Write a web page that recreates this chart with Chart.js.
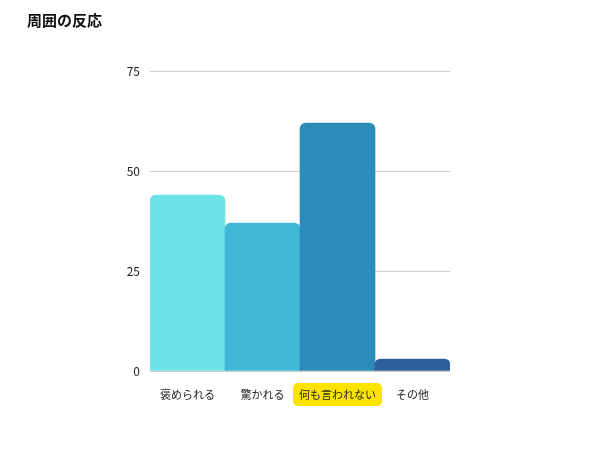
<!DOCTYPE html>
<html>
<head>
<meta charset="utf-8">
<script src="https://cdn.jsdelivr.net/npm/chart.js@4"></script>
<style>
  body { margin: 0; background: #fff; }
  #wrap { width: 600px; height: 450px; }
</style>
</head>
<body>
<div id="wrap"><canvas id="resultsChart"></canvas></div>
<script>
const categories = ['褒められる', '驚かれる', '何も言われない', 'その他'];
const values = [44, 37, 62, 3];
const barColors = ['#6ce5e8', '#41b8d5', '#2d8bba', '#2f5f98'];
const yTicks = [0, 25, 50, 75];
const highlightIndex = 2;

const font = '"Noto Sans CJK JP", "Noto Sans", sans-serif';
const labelSize = 11;

// yellow marker behind one category label
const highlightLabel = {
    id: 'highlightLabel',
    beforeDraw(chart) {
        const x = chart.scales.x;
        const ctx = chart.ctx;
        const cx = x.getPixelForValue(highlightIndex);
        ctx.save();
        ctx.font = labelSize + 'px ' + font;
        const w = ctx.measureText(categories[highlightIndex]).width + 12;
        const h = 23;
        const top = x.top + 12;
        ctx.fillStyle = '#fce300';
        ctx.beginPath();
        ctx.roundRect(cx - w / 2, top, w, h, 5);
        ctx.fill();
        ctx.restore();
    }
};

var ctx = document.getElementById('resultsChart').getContext('2d');
var myChart = new Chart(ctx, {
    type: 'bar',
    data: {
        labels: categories,
        datasets: [{
            data: values,
            backgroundColor: barColors,
            borderRadius: 6,
            categoryPercentage: 1,
            barPercentage: 1
        }]
    },
    options: {
        responsive: true,
        maintainAspectRatio: false,
        animation: false,
        layout: { padding: { left: 27, right: 150, top: 11, bottom: 0 } },
        plugins: {
            legend: { display: false },
            tooltip: { enabled: false },
            title: {
                display: true,
                text: '周囲の反応',
                align: 'start',
                color: '#111',
                font: { family: font, size: 15, weight: 'bold' },
                padding: { top: 0, bottom: 42 }
            }
        },
        scales: {
            x: {
                grid: { display: false, drawTicks: false },
                border: { display: false },
                ticks: {
                    color: '#222',
                    padding: 17,
                    maxRotation: 0,
                    minRotation: 0,
                    autoSkip: false,
                    font: { family: font, size: labelSize }
                },
                afterFit(scale) { scale.height = 79; }
            },
            y: {
                min: 0,
                max: 75,
                afterBuildTicks(scale) {
                    scale.ticks = yTicks.map(v => ({ value: v }));
                },
                grid: { color: '#cccccc', drawTicks: false, lineWidth: 1 },
                border: { display: false },
                ticks: {
                    color: '#222',
                    padding: 10,
                    font: { family: font, size: 12 }
                },
                afterFit(scale) { scale.width = 123; }
            }
        }
    },
    plugins: [highlightLabel]
});
</script>
</body>
</html>
